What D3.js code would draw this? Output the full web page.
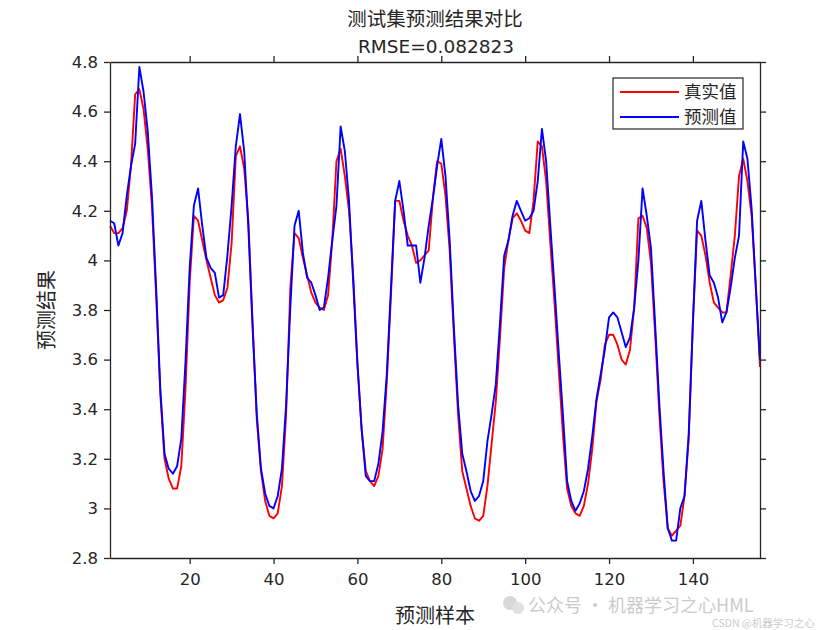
<!DOCTYPE html>
<html>
<head>
<meta charset="utf-8">
<script src="https://cdn.jsdelivr.net/npm/d3@7"></script>
<style>
  html, body { margin: 0; padding: 0; background: #ffffff; }
  svg { display: block; }
</style>
</head>
<body>
<svg id="chart" width="840" height="630"></svg>
<script>
// ---- data ----
const titleLine1 = "测试集预测结果对比";
const titleLine2 = "RMSE=0.082823";
const xLabel = "预测样本";
const yLabel = "预测结果";
const seriesNames = ["真实值", "预测值"];
const xTicks = [20, 40, 60, 80, 100, 120, 140];
const yTicks = [2.8, 3.0, 3.2, 3.4, 3.6, 3.8, 4.0, 4.2, 4.4, 4.6, 4.8];
const yTickLabels = ["2.8", "3", "3.2", "3.4", "3.6", "3.8", "4", "4.2", "4.4", "4.6", "4.8"];

const actual = [
  4.14, 4.11, 4.11, 4.13, 4.20, 4.38, 4.67, 4.69, 4.61, 4.45,
  4.22, 3.86, 3.46, 3.20, 3.12, 3.08, 3.08, 3.17, 3.48, 3.91,
  4.18, 4.16, 4.08, 4.00, 3.93, 3.86, 3.83, 3.84, 3.89, 4.07,
  4.42, 4.46, 4.37, 4.16, 3.75, 3.36, 3.15, 3.03, 2.97, 2.96,
  2.98, 3.09, 3.38, 3.89, 4.11, 4.09, 4.01, 3.94, 3.87, 3.83,
  3.81, 3.80, 3.86, 4.08, 4.40, 4.45, 4.34, 4.20, 3.94, 3.59,
  3.32, 3.15, 3.11, 3.09, 3.13, 3.24, 3.51, 3.86, 4.24, 4.24,
  4.16, 4.10, 4.06, 3.99, 4.00, 4.02, 4.04, 4.25, 4.40, 4.39,
  4.26, 4.04, 3.70, 3.38, 3.15, 3.08, 3.01, 2.96, 2.95, 2.97,
  3.09, 3.26, 3.43, 3.69, 3.97, 4.08, 4.17, 4.19, 4.16, 4.12,
  4.11, 4.24, 4.48, 4.46, 4.32, 4.07, 3.83, 3.56, 3.30, 3.08,
  3.01, 2.98, 2.97, 3.01, 3.10, 3.24, 3.43, 3.52, 3.66, 3.70,
  3.70, 3.66, 3.60, 3.58, 3.64, 3.81, 4.17, 4.18, 4.13, 3.99,
  3.70, 3.38, 3.11, 2.92, 2.89, 2.91, 2.93, 3.05, 3.28, 3.75,
  4.12, 4.10, 4.02, 3.91, 3.83, 3.81, 3.79, 3.79, 3.94, 4.10,
  4.34, 4.41, 4.32, 4.18, 3.90, 3.57
];

const predicted = [
  4.16, 4.15, 4.06, 4.11, 4.26, 4.38, 4.47, 4.78, 4.68, 4.52,
  4.26, 3.89, 3.48, 3.22, 3.16, 3.14, 3.17, 3.28, 3.59, 3.97,
  4.22, 4.29, 4.14, 4.01, 3.97, 3.95, 3.85, 3.86, 4.02, 4.22,
  4.46, 4.59, 4.44, 4.13, 3.73, 3.38, 3.16, 3.06, 3.01, 3.00,
  3.05, 3.16, 3.42, 3.81, 4.14, 4.20, 4.03, 3.93, 3.91, 3.86,
  3.80, 3.81, 3.93, 4.08, 4.22, 4.54, 4.44, 4.24, 3.91, 3.58,
  3.32, 3.13, 3.11, 3.11, 3.18, 3.31, 3.54, 3.89, 4.24, 4.32,
  4.20, 4.06, 4.06, 4.06, 3.91, 4.01, 4.14, 4.25, 4.38, 4.49,
  4.34, 4.08, 3.73, 3.42, 3.22, 3.15, 3.07, 3.03, 3.05, 3.11,
  3.27, 3.38, 3.50, 3.75, 4.02, 4.08, 4.18, 4.24, 4.20, 4.16,
  4.17, 4.20, 4.32, 4.53, 4.40, 4.14, 3.89, 3.63, 3.38, 3.11,
  3.03, 2.99, 3.02, 3.07, 3.16, 3.29, 3.44, 3.54, 3.64, 3.77,
  3.79, 3.77, 3.71, 3.65, 3.69, 3.81, 4.00, 4.29, 4.18, 4.05,
  3.74, 3.42, 3.15, 2.92, 2.87, 2.87, 3.00, 3.05, 3.30, 3.75,
  4.16, 4.24, 4.08, 3.94, 3.91, 3.85, 3.75, 3.79, 3.89, 4.01,
  4.10, 4.48, 4.41, 4.21, 3.89, 3.60
];

const watermark1 = "公众号 · 机器学习之心HML";
const watermark2 = "CSDN @机器学习之心";

// ---- layout ----
const M = { left: 110, right: 760, top: 62, bottom: 558 };
const axisColor = "#262626";
const numFont = "'DejaVu Sans', 'Liberation Sans', Arial, sans-serif";
const cjkFont = "'Noto Sans CJK SC', 'Noto Sans', sans-serif";

const svg = d3.select("#chart");

const x = d3.scaleLinear().domain([1, actual.length]).range([M.left, M.right]);
const y = d3.scaleLinear().domain([2.8, 4.8]).range([M.bottom, M.top]);

// plot background
svg.append("rect")
  .attr("x", M.left).attr("y", M.top)
  .attr("width", M.right - M.left).attr("height", M.bottom - M.top)
  .attr("fill", "#ffffff");

// lines
const line = d3.line().x((d, i) => x(i + 1)).y(d => y(d));
const plot = svg.append("g");
plot.append("path").datum(actual)
  .attr("d", line).attr("fill", "none")
  .attr("stroke", "#ff0000").attr("stroke-width", 1.9).attr("stroke-linejoin", "round");
plot.append("path").datum(predicted)
  .attr("d", line).attr("fill", "none")
  .attr("stroke", "#0000ff").attr("stroke-width", 1.9).attr("stroke-linejoin", "round");

// axes
function styleAxis(g) {
  g.selectAll(".domain").attr("stroke", axisColor).attr("stroke-width", 1.3);
  g.selectAll(".tick line").attr("stroke", axisColor).attr("stroke-width", 1.3);
  g.selectAll(".tick text").attr("fill", "#262626")
    .style("font-family", numFont).style("font-size", "16.5px");
}

const xAxisB = d3.axisBottom(x).tickValues(xTicks).tickSize(6).tickSizeOuter(0).tickPadding(7);
svg.append("g").attr("transform", `translate(0,${M.bottom})`).call(xAxisB).call(styleAxis)
  .call(g => g.selectAll(".tick text").attr("dy", "0.85em"));

const xAxisT = d3.axisTop(x).tickValues(xTicks).tickSize(6).tickSizeOuter(0).tickFormat("");
svg.append("g").attr("transform", `translate(0,${M.top})`).call(xAxisT).call(styleAxis);

const yAxisL = d3.axisLeft(y).tickValues(yTicks).tickSize(6).tickSizeOuter(0).tickPadding(6)
  .tickFormat((d, i) => yTickLabels[i]);
svg.append("g").attr("transform", `translate(${M.left},0)`).call(yAxisL).call(styleAxis);

const yAxisR = d3.axisRight(y).tickValues(yTicks).tickSize(6).tickSizeOuter(0).tickFormat("");
svg.append("g").attr("transform", `translate(${M.right},0)`).call(yAxisR).call(styleAxis);

// titles
svg.append("text").attr("x", 435).attr("y", 26).attr("text-anchor", "middle")
  .style("font-family", cjkFont).style("font-size", "19.5px").attr("fill", "#262626")
  .text(titleLine1);
svg.append("text").attr("x", 436).attr("y", 53).attr("text-anchor", "middle")
  .style("font-family", numFont).style("font-size", "18.5px").attr("fill", "#262626")
  .text(titleLine2);

// axis labels
svg.append("text").attr("x", 435).attr("y", 623).attr("text-anchor", "middle")
  .style("font-family", cjkFont).style("font-size", "20px").attr("fill", "#262626")
  .text(xLabel);
svg.append("text").attr("transform", "translate(54,310) rotate(-90)").attr("text-anchor", "middle")
  .style("font-family", cjkFont).style("font-size", "20px").attr("fill", "#262626")
  .text(yLabel);

// legend
const lg = svg.append("g");
lg.append("rect").attr("x", 613).attr("y", 78).attr("width", 130).attr("height", 51)
  .attr("fill", "#ffffff").attr("stroke", axisColor).attr("stroke-width", 1.2);
const legendColors = ["#ff0000", "#0000ff"];
seriesNames.forEach((name, i) => {
  const ly = 92 + i * 25;
  lg.append("line").attr("x1", 620).attr("x2", 679).attr("y1", ly).attr("y2", ly)
    .attr("stroke", legendColors[i]).attr("stroke-width", 1.8);
  lg.append("text").attr("x", 684).attr("y", ly + 6)
    .style("font-family", cjkFont).style("font-size", "17.5px").attr("fill", "#262626")
    .text(name);
});

// watermark (kept clear of the tick labels)
const wm = svg.append("g").attr("opacity", 0.55);
wm.append("circle").attr("cx", 510).attr("cy", 603).attr("r", 7).attr("fill", "#b8b8b8");
wm.append("circle").attr("cx", 518).attr("cy", 608).attr("r", 6).attr("fill", "#c8c8c8");
wm.append("text").attr("x", 528).attr("y", 612)
  .style("font-family", cjkFont).style("font-size", "18px").attr("fill", "#a0a0a0")
  .text(watermark1);
wm.append("text").attr("x", 712).attr("y", 627)
  .style("font-family", cjkFont).style("font-size", "10.5px").attr("fill", "#a0a0a0")
  .text(watermark2);
</script>
</body>
</html>
